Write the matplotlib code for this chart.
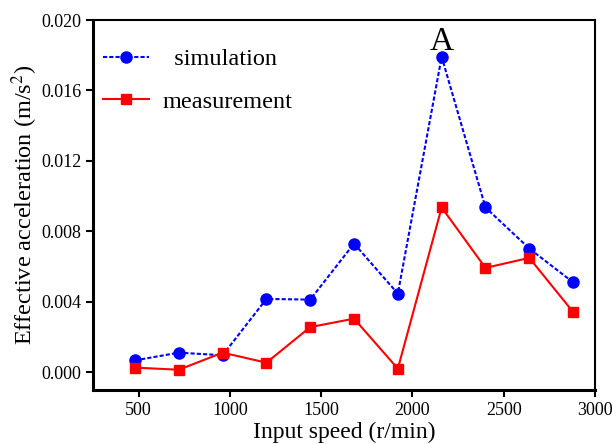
import matplotlib
matplotlib.use("Agg")
import matplotlib.pyplot as plt

# values
speed = [480, 720, 960, 1200, 1440, 1680, 1920, 2160, 2400, 2640, 2880]
simulation = [0.00068, 0.00112, 0.00097, 0.00417, 0.00413, 0.00731,
              0.00447, 0.01791, 0.00936, 0.00703, 0.00511]
measurement = [0.00027, 0.00015, 0.00112, 0.00055, 0.00257, 0.00305,
               0.00021, 0.00936, 0.00593, 0.00650, 0.00343]
x_ticks = [500, 1000, 1500, 2000, 2500, 3000]
y_ticks = [0.000, 0.004, 0.008, 0.012, 0.016, 0.020]

plt.rcParams["font.family"] = ["Liberation Serif", "DejaVu Serif"]
plt.rcParams["mathtext.fontset"] = "stix"

fig = plt.figure(figsize=(6.12, 4.44), dpi=100)
ax = fig.add_axes([93 / 612, 1 - 390 / 444, (595 - 93) / 612, (390 - 20) / 444])

ax.plot(speed, simulation, color="blue", linestyle=(0, (2, 1)), linewidth=1.5,
        marker="o", markersize=8, label="  simulation")
ax.plot(speed, measurement, color="red", linestyle="-", linewidth=1.5,
        marker="s", markersize=7, label="measurement")

ax.text(2160, 0.0183, "A", ha="center", va="baseline", fontsize=24)

ax.set_xlim(250, 3000)
ax.set_ylim(-0.001, 0.020)
ax.set_xticks(x_ticks)
ax.set_yticks(y_ticks)
ax.set_yticklabels([f"{v:.3f}" for v in y_ticks])
ax.tick_params(axis="both", direction="out", length=5, width=1.5, labelsize=13)

for side in ["left", "bottom"]:
    ax.spines[side].set_linewidth(2.2)
for side in ["top", "right"]:
    ax.spines[side].set_linewidth(1.5)

ax.set_xlabel("Input speed (r/min)", fontsize=17, labelpad=2)
ax.set_ylabel("Effective acceleration (m/s$^2$)", fontsize=17.5, labelpad=1)

ax.legend(loc="upper left", frameon=False, fontsize=17.5, handlelength=1.9,
          handletextpad=0.55, borderaxespad=0.0, labelspacing=0.85,
          bbox_to_anchor=(0.0, 0.95))

plt.savefig("out.png", dpi=100)
